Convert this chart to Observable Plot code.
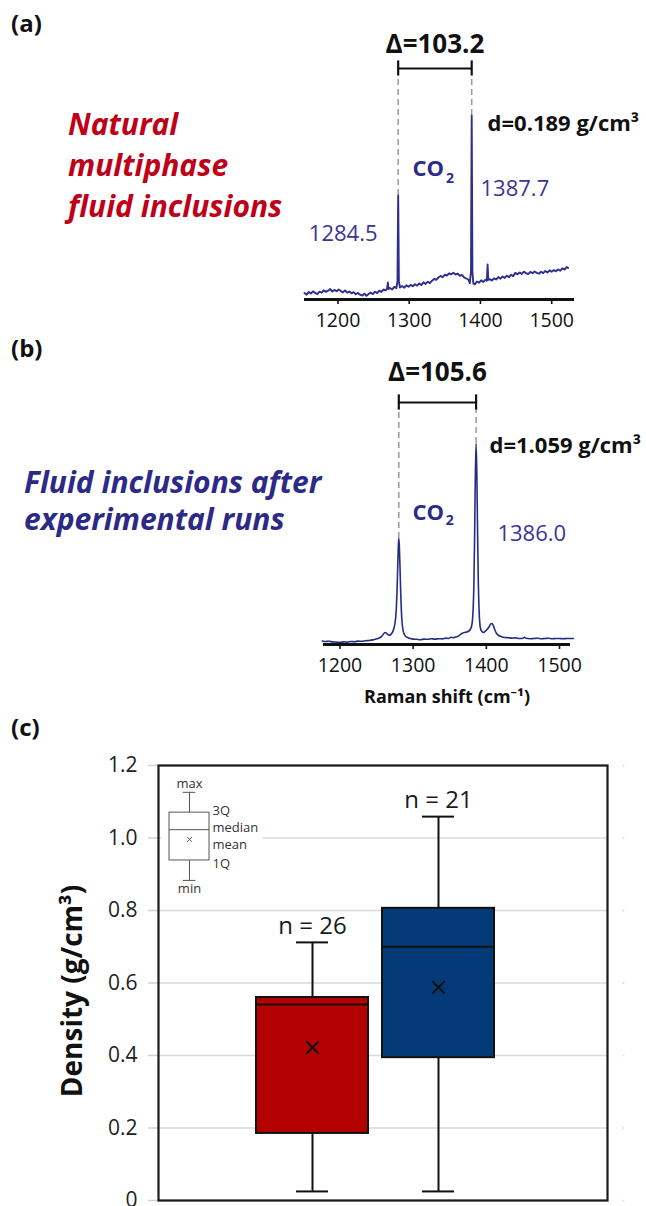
<!DOCTYPE html>
<html>
<head>
<meta charset="utf-8">
<script src="https://cdn.jsdelivr.net/npm/d3@7"></script>
<script src="https://cdn.jsdelivr.net/npm/@observablehq/plot@0.6"></script>
<style>
  html, body { margin: 0; padding: 0; background: #fff; }
  #wrap { position: relative; width: 646px; height: 1206px; overflow: hidden; background: #fff; font-family: "Open Sans", "Noto Sans", sans-serif; }
  #wrap svg { position: absolute; left: 0; }
  .lbl { position: absolute; white-space: nowrap; }
  .panel { font-weight: 700; font-size: 24px; color: #111; line-height: 24px; left: 11px; }
  .title { font-weight: 700; font-style: italic; font-size: 30px; }
</style>
</head>
<body>
<div id="wrap">
  <div class="lbl panel" style="top:11px">(a)</div>
  <div class="lbl title" style="left:68px; top:103px; line-height:41px; color:#c00018">Natural<br>multiphase<br>fluid inclusions</div>
  <div class="lbl panel" style="top:336px">(b)</div>
  <div class="lbl title" style="left:24px; top:463px; line-height:37px; color:#2b2a86">Fluid inclusions after<br>experimental runs</div>
  <div class="lbl panel" style="top:715px">(c)</div>
</div>
<script>
const FONT = '"Open Sans", "Noto Sans", sans-serif';

// ---------- Panel (a): Raman spectrum, natural inclusions ----------
const ramanA = [
  [1153,3.2],[1156,2.4],[1159,3.8],[1162,3.0],[1165,4.1],[1168,3.3],[1171,2.7],[1174,3.9],[1177,3.4],[1180,4.6],
  [1183,3.8],[1186,4.4],[1189,5.2],[1192,4.0],[1195,4.8],[1198,4.1],[1201,5.0],[1204,4.2],[1207,3.6],[1210,4.5],
  [1213,3.4],[1216,4.0],[1219,3.1],[1222,3.7],[1225,2.6],[1228,3.3],[1231,2.4],[1234,2.0],[1237,2.9],[1240,1.9],
  [1243,2.8],[1246,3.4],[1249,2.7],[1252,3.9],[1255,3.2],[1258,4.4],[1261,3.8],[1264,5.0],[1267,4.6],[1269,5.5],
  [1270,8.5],[1271,5.2],[1273,5.8],[1276,5.0],[1279,6.3],[1282,5.7],[1283.5,9],[1284.5,52],[1285.5,9],[1287,6.0],
  [1290,6.8],[1293,5.9],[1296,7.1],[1299,6.4],[1302,7.3],[1305,6.6],[1308,7.6],[1311,6.9],[1314,8.0],[1317,7.2],
  [1320,8.6],[1323,7.8],[1326,8.9],[1329,8.2],[1332,9.4],[1335,10.3],[1338,9.8],[1341,11.0],[1344,11.8],[1347,11.2],
  [1350,12.4],[1353,12.0],[1356,13.1],[1359,12.6],[1362,13.4],[1365,12.5],[1368,12.9],[1371,11.8],[1374,12.3],[1377,11.1],
  [1380,10.5],[1383,10.0],[1385,8.2],[1386.7,14],[1387.7,92],[1388.7,14],[1390,8.0],[1392,7.6],[1395,9.0],[1398,8.4],
  [1401,9.6],[1404,8.8],[1407,9.9],[1409,9.4],[1410,17.5],[1411,9.8],[1413,10.2],[1416,9.5],[1419,10.6],[1422,10.0],
  [1425,11.2],[1428,10.4],[1431,11.5],[1434,10.8],[1437,11.9],[1440,11.2],[1443,12.4],[1446,11.7],[1449,13.3],[1452,12.6],
  [1455,13.5],[1458,12.8],[1461,13.9],[1464,13.2],[1467,12.7],[1470,13.8],[1473,13.1],[1476,14.0],[1479,13.3],[1482,12.9],
  [1485,13.9],[1488,13.2],[1491,14.3],[1494,13.5],[1497,14.6],[1500,13.9],[1503,14.7],[1506,14.1],[1509,15.0],[1512,14.4],
  [1515,15.6],[1518,15.0],[1521,16.2],[1523,15.8]
];
const peaksA = [1284.5, 1387.7];
const peakTopsA = [52, 92];
const densityA = "d=0.189 g/cm³";

// ---------- Panel (b): Raman spectrum, after experiments ----------
const ramanB = [
  [1176,1.8],[1180,1.5],[1185,1.6],[1190,1.3],[1195,1.2],[1200,1.1],[1205,1.3],[1210,1.2],[1215,1.5],[1220,1.4],
  [1225,1.7],[1230,1.6],[1235,1.9],[1240,2.0],[1245,2.3],[1248,2.6],[1252,3.0],[1255,3.5],[1258,4.5],[1260,5.5],
  [1262,6.0],[1264,5.5],[1266,4.8],[1268,4.7],[1270,5.2],[1272,6.3],[1274,8.5],[1276,13],[1277,18],[1278,27],
  [1279,40],[1280,51],[1280.4,53],[1281,50],[1282,39],[1283,26],[1284,16],[1285,10.5],[1286,7.5],[1288,5],
  [1290,4],[1293,3.4],[1296,3.0],[1300,2.7],[1305,2.6],[1310,2.4],[1315,2.7],[1320,2.6],[1325,2.9],[1330,2.7],
  [1335,2.9],[1340,2.8],[1345,3.2],[1348,3.0],[1352,3.6],[1355,3.4],[1358,3.8],[1361,4.0],[1364,4.8],[1367,5.6],
  [1370,6.0],[1372,6.1],[1375,6.5],[1378,7.5],[1380,9.5],[1381,12],[1382,18],[1383,30],[1384,55],[1385,85],
  [1386,100.5],[1387,86],[1388,57],[1389,32],[1390,18],[1391,11],[1392,8],[1394,6.5],[1396,6],[1398,6.5],
  [1401,7.5],[1404,9],[1406,10.3],[1408,10.5],[1410,9],[1412,7],[1414,5.5],[1417,4.5],[1420,4],[1425,3.5],
  [1430,3.4],[1435,3.2],[1440,3.3],[1445,3.0],[1450,3.1],[1452,3.6],[1454,3.1],[1460,2.9],[1465,3.0],[1470,3.1],
  [1475,2.9],[1480,3.0],[1485,3.1],[1490,2.9],[1495,3.0],[1500,3.0],[1505,2.9],[1510,3.0],[1515,3.0],[1519,3.0]
];
const peaksB = [1280.4, 1386.0];
const peakTopsB = [53, 100.5];
const densityB = "d=1.059 g/cm³";

const shiftTicks = [1200, 1300, 1400, 1500];

// ---------- Panel (c): density box plots ----------
const groups   = ["Natural", "Experimental"];
const nValues  = [26, 21];
const minV     = [0.025, 0.025];
const q1V      = [0.185, 0.394];
const medianV  = [0.541, 0.700];
const q3V      = [0.560, 0.806];
const maxV     = [0.712, 1.059];
const meanV    = [0.422, 0.588];
const boxColors = ["#b50000", "#053a79"];
const densityTicks = [0, 0.2, 0.4, 0.6, 0.8, 1.0, 1.2];

// legend (schematic box)
const legendNames  = ["min", "q1", "median", "q3", "max", "mean"];
const legendValues = [0.883, 0.938, 1.023, 1.070, 1.126, 0.996];

const wrap = document.getElementById("wrap");
const toPts = arr => arr.map(([x, y]) => ({x, y}));
const styleBase = {fontFamily: FONT, background: "transparent", overflow: "visible"};

function spectrum({data, peaks, tops, dens, domain, marginLeft, marginRight, height, marginBottom, yMax,
                   lineColor, lineWidth, bracket, deltaY, densXY, co2XY, subXY, labels, xLabel}) {
  const pk = peaks.map((x, i) => ({x, top: tops[i]}));
  const delta = "Δ=" + (peaks[1] - peaks[0]).toFixed(1);
  const marks = [
    Plot.ruleX(pk, {x: "x", y1: "top", y2: bracket - 3.8, stroke: "#9a9a9a", strokeWidth: 1.5, strokeDasharray: "6,4"}),
    Plot.line(toPts(data), {x: "x", y: "y", stroke: lineColor, strokeWidth: lineWidth, curve: xLabel ? "monotone-x" : "linear"}),
    Plot.ruleY([0], {stroke: "#111", strokeWidth: 3}),
    Plot.axisX({ticks: shiftTicks, tickSize: 5, tickPadding: 9, fontSize: 19.5, stroke: "#111", strokeWidth: 1.6, fill: "#111", label: null, tickFormat: d => String(d)}),
    Plot.ruleY([bracket], {x1: peaks[0], x2: peaks[1], stroke: "#111", strokeWidth: 2.2}),
    Plot.ruleX(pk, {x: "x", y1: bracket - 3.8, y2: bracket + 3.8, stroke: "#111", strokeWidth: 2.2}),
    Plot.text([delta], {x: (peaks[0] + peaks[1]) / 2, y: deltaY, fontSize: 26, fontWeight: "bold", fill: "#111"}),
    Plot.text([dens], {x: densXY[0], y: densXY[1], textAnchor: "start", fontSize: 22, fontWeight: "bold", fill: "#111"}),
    Plot.text(["CO"], {x: co2XY[0], y: co2XY[1], textAnchor: "start", fontSize: 22, fontWeight: "bold", fill: "#2e2b8c"}),
    Plot.text(["2"], {x: subXY[0], y: subXY[1], textAnchor: "start", fontSize: 14, fontWeight: "bold", fill: "#2e2b8c"}),
    Plot.text(labels.filter(d => d.a === "start"), {x: "x", y: "y", text: "t", textAnchor: "start", fontSize: 22, fill: "#3a3596"}),
    Plot.text(labels.filter(d => d.a === "end"), {x: "x", y: "y", text: "t", textAnchor: "end", fontSize: 22, fill: "#3a3596"})
  ];
  if (xLabel) {
    marks.push(Plot.text([xLabel], {frameAnchor: "bottom", lineAnchor: "middle", textAnchor: "middle", dy: 53, fontSize: 18, fontWeight: "bold", fill: "#111"}));
  }
  return Plot.plot({
    width: 646, height, marginTop: 0, marginBottom, marginLeft, marginRight,
    x: {domain}, y: {domain: [0, yMax], axis: null},
    style: styleBase,
    marks
  });
}

const svgA = spectrum({
  data: ramanA, peaks: peaksA, tops: peakTopsA, dens: densityA,
  domain: [1153, 1532], marginLeft: 304, marginRight: 72, height: 340, marginBottom: 41, yMax: 149.5,
  lineColor: "#2e2d90", lineWidth: 1.9, bracket: 115.5, deltaY: 127.5,
  densXY: [1410, 88], co2XY: [1304.6, 65.5], subXY: [1351.5, 60.5],
  labels: [{x: 1255.5, y: 33, t: peaksA[0].toFixed(1), a: "end"}, {x: 1400.1, y: 55.5, t: peaksA[1].toFixed(1), a: "start"}],
  xLabel: null
});
svgA.style.top = "0px";
wrap.appendChild(svgA);

const svgB = spectrum({
  data: ramanB, peaks: peaksB, tops: peakTopsB, dens: densityB,
  domain: [1177.5, 1515], marginLeft: 323, marginRight: 76, height: 380, marginBottom: 76, yMax: 152,
  lineColor: "#232c86", lineWidth: 1.6, bracket: 121, deltaY: 136,
  densXY: [1404.3, 99.5], co2XY: [1299.1, 66], subXY: [1344.5, 62],
  labels: [{x: 1415.2, y: 55.5, t: peaksB[1].toFixed(1), a: "start"}],
  xLabel: "Raman shift (cm⁻¹)"
});
svgB.style.top = "340px";
wrap.appendChild(svgB);

// ---------- Panel (c) ----------
const stats = groups.map((g, i) => ({
  group: g, n: nValues[i], min: minV[i], q1: q1V[i], median: medianV[i], q3: q3V[i], max: maxV[i], mean: meanV[i], color: boxColors[i]
}));

const cOpts = {width: 646, height: 486, marginTop: 45, marginBottom: 6, marginLeft: 158, marginRight: 39};

const svgC = Plot.plot({
  ...cOpts,
  x: {domain: groups, range: [255, 495], paddingInner: 0.11, paddingOuter: 0, axis: null},
  y: {domain: [0, 1.2], axis: null},
  style: styleBase,
  marks: [
    Plot.gridY({ticks: densityTicks, stroke: "#d9d9d9", strokeOpacity: 1, strokeWidth: 1.5}),
    Plot.axisY({ticks: densityTicks, tickSize: 10, tickPadding: 11, stroke: "#d0d0d0", strokeWidth: 1.5, fill: "#222",
                fontSize: 21, label: null, tickFormat: d => d === 0 ? "0" : d.toFixed(1)}),
    Plot.dot(densityTicks, {y: d => d, frameAnchor: "right", dx: 16, r: 1, fill: "#dddddd"}),
    Plot.ruleX(stats, {x: "group", y1: "q3", y2: "max", stroke: "#111", strokeWidth: 2}),
    Plot.ruleX(stats, {x: "group", y1: "min", y2: "q1", stroke: "#111", strokeWidth: 2}),
    Plot.tickY(stats, {x: "group", y: "max", stroke: "#111", strokeWidth: 2, insetLeft: 40, insetRight: 40}),
    Plot.tickY(stats, {x: "group", y: "min", stroke: "#111", strokeWidth: 2, insetLeft: 40, insetRight: 40}),
    Plot.barY(stats, {x: "group", y1: "q1", y2: "q3", fill: "color", stroke: "#111", strokeWidth: 2}),
    Plot.tickY(stats, {x: "group", y: "median", stroke: "#111", strokeWidth: 2}),
    Plot.dot(stats, {x: "group", y: "mean", symbol: "times", r: 5.7, stroke: "#111", strokeWidth: 2}),
    Plot.text(stats, {x: "group", y: "max", text: d => `n = ${d.n}`, dy: -16, fontSize: 24, fill: "#1a1a1a"}),
    Plot.text(["Density (g/cm³)"], {frameAnchor: "left", textAnchor: "middle", rotate: -90, dx: -85, dy: 8,
                                    fontSize: 28, fontWeight: "bold", fill: "#111"})
  ]
});
svgC.style.top = "720px";
wrap.appendChild(svgC);

// legend overlay (schematic box explaining the symbols) + frame on top
const L = Object.fromEntries(legendNames.map((k, i) => [k, legendValues[i]]));
const legendText = [
  {t: "max", x: 0, y: L.max + 0.024, a: "middle"},
  {t: "min", x: 0, y: L.min - 0.022, a: "middle"},
  {t: "3Q", x: 1.15, y: L.q3 + 0.004, a: "start"},
  {t: "median", x: 1.15, y: L.median + 0.006, a: "start"},
  {t: "mean", x: 1.15, y: L.mean - 0.014, a: "start"},
  {t: "1Q", x: 1.15, y: L.q1 - 0.008, a: "start"}
];
const svgL = Plot.plot({
  ...cOpts,
  x: {domain: [-1, 1], range: [169, 209], axis: null},
  y: {domain: [0, 1.2], axis: null},
  style: styleBase,
  marks: [
    Plot.rect([0], {x1: -1.4, x2: 3.7, y1: 0.85, y2: 1.18, fill: "white"}),
    Plot.ruleX([0], {x: 0, y1: L.q3, y2: L.max, stroke: "#555", strokeWidth: 1}),
    Plot.ruleX([0], {x: 0, y1: L.min, y2: L.q1, stroke: "#555", strokeWidth: 1}),
    Plot.ruleY([L.max, L.min], {x1: -0.32, x2: 0.32, stroke: "#555", strokeWidth: 1}),
    Plot.rect([0], {x1: -1, x2: 1, y1: L.q1, y2: L.q3, fill: "white", stroke: "#555", strokeWidth: 1}),
    Plot.ruleY([L.median], {x1: -1, x2: 1, stroke: "#555", strokeWidth: 1}),
    Plot.dot([L.mean], {x: 0, y: d => d, symbol: "times", r: 2.3, stroke: "#555", strokeWidth: 1}),
    Plot.text(legendText.filter(d => d.a === "middle"), {x: "x", y: "y", text: "t", textAnchor: "middle", fontSize: 13, fill: "#333"}),
    Plot.text(legendText.filter(d => d.a === "start"), {x: "x", y: "y", text: "t", textAnchor: "start", fontSize: 13, fill: "#333"}),
    Plot.frame({stroke: "#1a1a1a", strokeWidth: 2.2})
  ]
});
svgL.style.top = "720px";
wrap.appendChild(svgL);
</script>
</body>
</html>
